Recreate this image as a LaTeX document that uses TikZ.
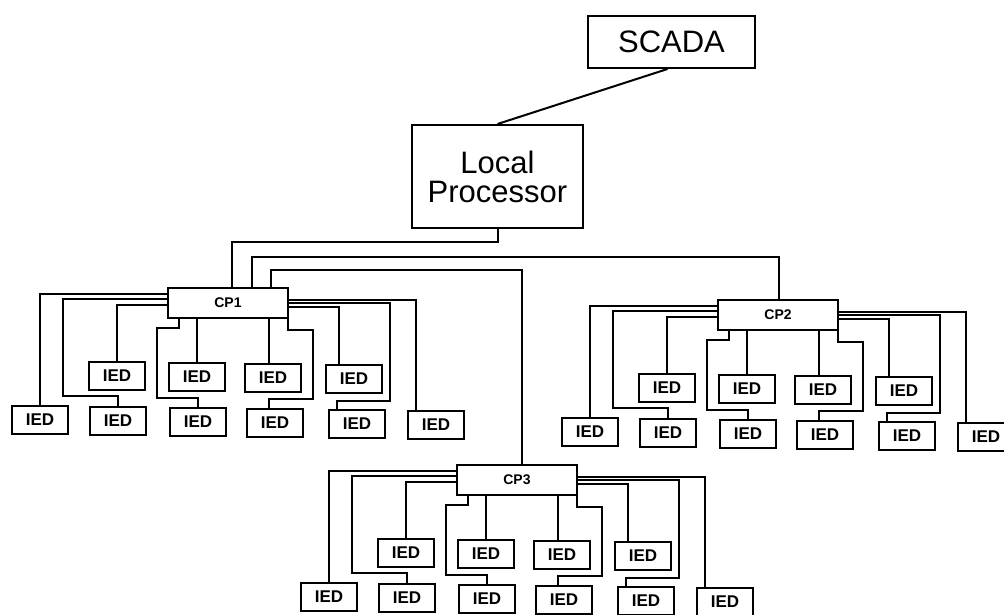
\documentclass[tikz,border=0pt]{standalone}
\usepackage{fontspec}
\setmainfont{Liberation Sans}
\tikzset{
  bigbox/.style={draw, line width=2pt, inner sep=0pt, align=center,
    font=\fontsize{31}{29}\selectfont},
  cpbox/.style={draw, line width=2pt, minimum width=120pt, minimum height=30pt,
    inner sep=0pt, font=\bfseries\fontsize{14}{16}\selectfont},
  ied/.style={draw, line width=2pt, minimum width=56pt, minimum height=28pt,
    inner sep=0pt, font=\bfseries\fontsize{17}{19}\selectfont},
  wire/.style={line width=2pt}
}
\newcommand\cpunit[4]{%
  \begin{scope}[shift={(#2,#3)}]
    \node[cpbox] (#1) at (60,15) {#4};
    \node[ied] (#1-t1) at (-51,88) {IED};
    \node[ied] (#1-t2) at (29,89) {IED};
    \node[ied] (#1-t3) at (105,90) {IED};
    \node[ied] (#1-t4) at (186,91) {IED};
    \node[ied] (#1-b1) at (-128,132) {IED};
    \node[ied] (#1-b2) at (-50,133) {IED};
    \node[ied] (#1-b3) at (30,134) {IED};
    \node[ied] (#1-b4) at (107,135) {IED};
    \node[ied] (#1-b5) at (189,136) {IED};
    \node[ied] (#1-b6) at (268,137) {IED};
    % left side
    \draw[wire] ([yshift=-7pt]#1.north west) -| (#1-b1.north);
    \draw[wire] ([yshift=-12pt]#1.north west) -| (-105,108) -| (#1-b2.north);
    \draw[wire] ([yshift=-18pt]#1.north west) -| (#1-t1.north);
    % bottom side
    \draw[wire] ([xshift=12pt]#1.south west) |- (-11,40) -- (-11,110) -| (#1-b3.north);
    \draw[wire] (#1-t2.north |- #1.south) -- (#1-t2.north);
    \draw[wire] ([xshift=-4pt]#1-t3.north |- #1.south) -- ([xshift=-4pt]#1-t3.north);
    \draw[wire] ([xshift=-1pt]#1.south east) |- (145,42) -- (145,111) -| ([xshift=-6pt]#1-b4.north);
    % right side
    \draw[wire] ([yshift=-20pt]#1.north east) -| ([xshift=-15pt]#1-t4.north);
    \draw[wire] ([yshift=-16pt]#1.north east) -| (222,113) -| ([xshift=-20pt]#1-b5.north);
    \draw[wire] ([yshift=-13pt]#1.north east) -| ([xshift=-20pt]#1-b6.north);
  \end{scope}}
\begin{document}
\begin{tikzpicture}[x=1pt,y=-1pt]
  \useasboundingbox (0,0) rectangle (1004,615);
  \node[bigbox, minimum width=167pt, minimum height=52pt] (scada) at (671.5,42) {SCADA};
  \node[bigbox, minimum width=171pt, minimum height=103pt] (lp) at (497.5,176.5) {Local\\Processor};
  \cpunit{cp1}{168}{288}{CP1}
  \cpunit{cp2}{718}{300}{CP2}
  \cpunit{cp3}{457}{465}{CP3}
  \draw[wire] ([xshift=-4pt]scada.south) -- (lp.north);
  \draw[wire] (lp.south) |- ([xshift=65pt,yshift=45pt]cp1.north west) -- ([xshift=65pt]cp1.north west);
  \draw[wire] ([xshift=85pt]cp1.north west) -- ([xshift=85pt,yshift=30pt]cp1.north west) -| ([xshift=62pt]cp2.north west);
  \draw[wire] ([xshift=104pt]cp1.north west) -- ([xshift=104pt,yshift=17pt]cp1.north west) -| ([xshift=66pt]cp3.north west);
\end{tikzpicture}
\end{document}
